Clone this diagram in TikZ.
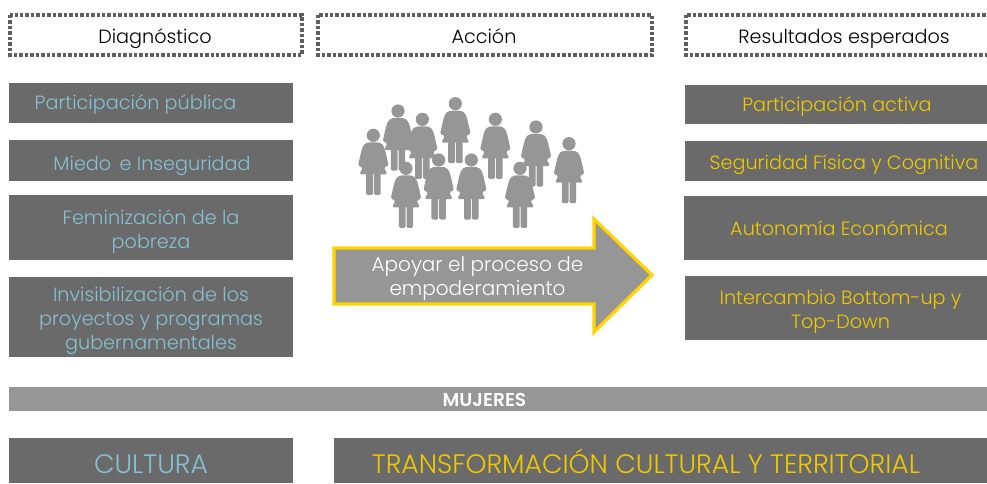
\documentclass[tikz,border=0pt]{standalone}
\usepackage{fontspec}
\setmainfont{Poppins Light}[BoldFont={Poppins SemiBold}]
\definecolor{boxg}{HTML}{6A6A6A}
\definecolor{midg}{HTML}{969696}
\definecolor{dashg}{HTML}{5E5E5E}
\definecolor{tblue}{HTML}{86C0D2}
\definecolor{tyel}{HTML}{EEC900}
\definecolor{ayel}{HTML}{FFD400}
\tikzset{
  x=0.75pt,y=-0.75pt,
  rectb/.style={fill=boxg,draw=none,inner sep=0pt},
  headbox/.style={draw=dashg,line width=2.3pt,dash pattern=on 2.6pt off 1.5pt,fill=white},
  lbl/.style={align=center,font=\fontsize{14.4}{18}\selectfont,inner sep=0pt},
  bl/.style={lbl,text=tblue},
  yl/.style={lbl,text=tyel},
  hl/.style={lbl,text=black},
  person/.pic={
    \fill[midg] (0,0) circle[radius=6.6];
    \fill[midg,rounded corners=1.2pt] (-4,7) .. controls (-10.5,8) and (-11.5,14) .. (-13,20) -- (-15.3,30.5) -- (-10.5,32) -- (-14,39) -- (14,39) -- (10.5,32) -- (15.3,30.5) -- (13,20) .. controls (11.5,14) and (10.5,8) .. (4,7) -- cycle;
    \fill[midg,rounded corners=1pt] (-7.2,38) rectangle (-0.5,59.5);
    \fill[midg,rounded corners=1pt] (0.5,38) rectangle (7.2,59.5);
  }
}
\begin{document}
\begin{tikzpicture}
\useasboundingbox (0,0) rectangle (987,483);
% heading boxes
\draw[headbox] (10,15) rectangle (302,55);
\draw[headbox] (318,15) rectangle (652,55);
\draw[headbox] (686,15) rectangle (990,55);
\node[hl] (h1) at (155,38.5) {Diagnóstico};
\node[hl] (h2) at (484,36) {Acción};
\node[hl] (h3) at (844,38.5) {Resultados esperados};
% left
\path[rectb] (9,83) rectangle (293,123);
\path[rectb] (9,140) rectangle (293,181);
\path[rectb] (9,195) rectangle (293,260);
\path[rectb] (9,277) rectangle (293,357);
\node[bl] (l1) at (135.5,105) {Participación pública};
\node[bl] (l2) at (152,166) {Miedo\, e Inseguridad};
\node[bl] (l3) at (151,231.5) {Feminización de la\\pobreza};
\node[bl] (l4) at (151,321) {Invisibilización de los\\proyectos y programas\\gubernamentales};
% right
\path[rectb] (685,85) rectangle (987,124);
\path[rectb] (685,141) rectangle (987,181);
\path[rectb] (684,196) rectangle (987,260);
\path[rectb] (685,276) rectangle (987,340);
\node[yl] (r1) at (837,107) {Participación activa};
\node[yl] (r2) at (844,165) {Seguridad Física y Cognitiva};
\node[yl] (r3) at (839,228) {Autonomía Económica};
\node[yl] (r4) at (840.5,312) {Intercambio Bottom-up y\\Top-Down};
% people
\foreach \zx/\zy in {100/133,174/60,247/85,346/38,466/85,588/108,687/158,198/232,296/207,394/207,540/232}
  \pic at ({340+\zx/3},{91+\zy/3}) {person};
% arrow
\draw[fill=midg,draw=ayel,line width=2.4pt,miter limit=10] (334,248) -- (594,248) -- (594,219) -- (652,275) -- (594,332) -- (594,304) -- (334,304) -- cycle;
\node[lbl,text=white,font=\fontsize{15}{18}\selectfont] (a) at (477.5,279) {Apoyar el proceso de\\empoderamiento};
% bar
\fill[midg] (9,387) rectangle (987,411);
\node[lbl,text=white,font=\fontsize{14}{15}\selectfont\bfseries] (m) at (484.5,399.5) {MUJERES};
% bottom
\path[rectb] (9,438) rectangle (293,483);
\path[rectb] (334,438) rectangle (987,483);
\node[bl,font=\fontsize{20}{22}\selectfont] (c) at (151,464) {CULTURA};
\node[yl,font=\fontsize{20}{22}\selectfont] (t) at (646,461.5) {TRANSFORMACIÓN CULTURAL Y TERRITORIAL};
\end{tikzpicture}
\end{document}
